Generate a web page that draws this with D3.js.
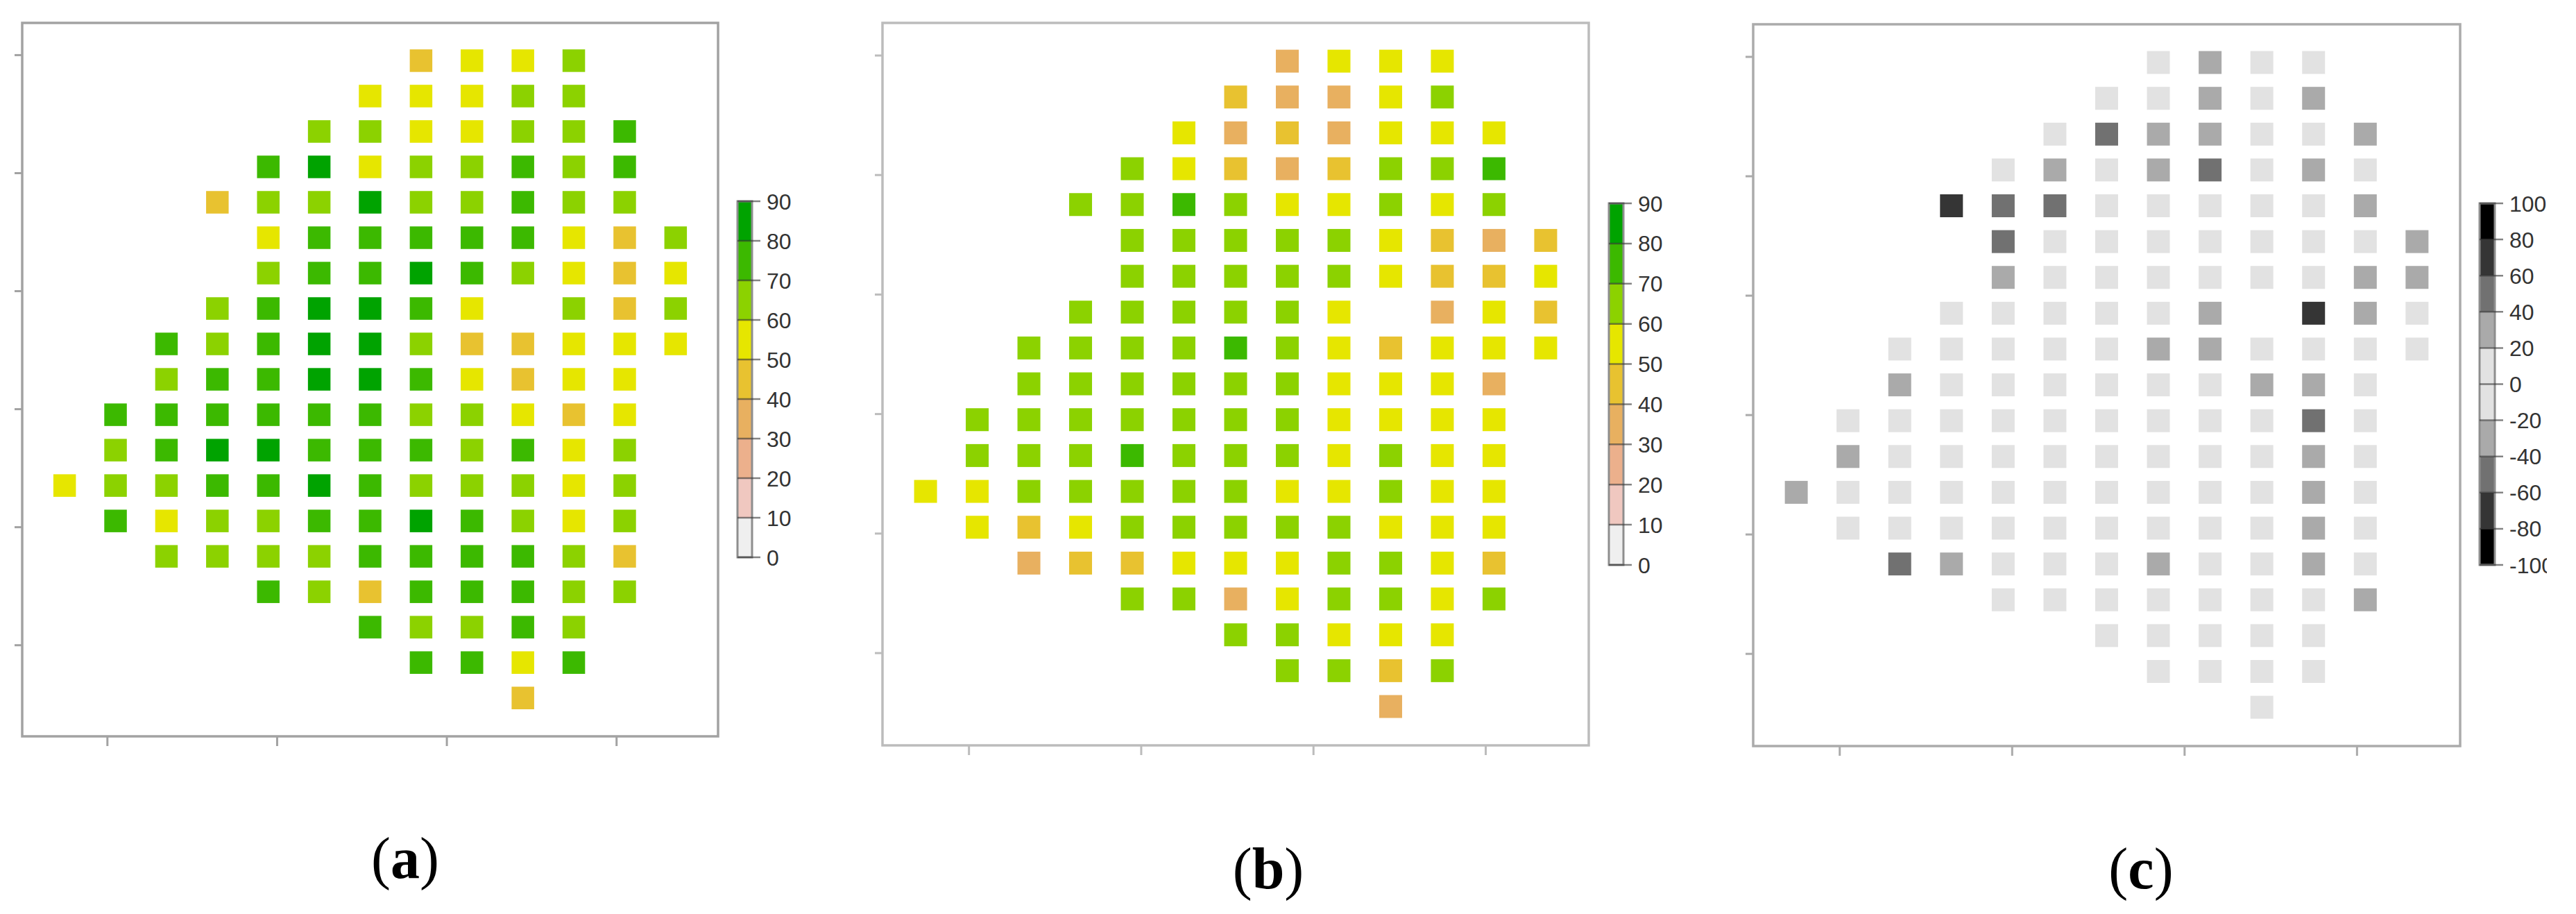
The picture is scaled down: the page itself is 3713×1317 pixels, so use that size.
<!DOCTYPE html>
<html><head><meta charset="utf-8">
<script src="https://cdn.jsdelivr.net/npm/d3@7"></script>
<style>html,body{margin:0;padding:0;background:#fff;overflow:hidden}</style>
</head><body><svg id="chart" width="3713" height="1317"></svg>
<script>
// ---- data ----
const colDeg = [-45,-39,-33,-27,-21,-15,-9,-3,3,9,15,21,27];
const rowDeg = [59,53,47,41,35,29,23,17,11,5,-1,-7,-13,-19,-25,-31,-37,-43,-49];
const rowStart = [7,6,5,4,3,4,4,3,2,2,1,1,0,1,2,4,6,7,9];

const fieldA = [
  [45,55,55,65],
  [55,55,55,65,65],
  [65,65,55,55,65,65,75],
  [75,85,55,65,65,75,65,75],
  [45,65,65,85,65,65,75,65,65],
  [55,75,75,75,75,75,55,45,65],
  [65,75,75,85,75,65,55,45,55],
  [65,75,85,85,75,55,null,65,45,65],
  [75,65,75,85,85,65,45,45,55,55,55],
  [65,75,75,85,85,75,55,45,55,55],
  [75,75,75,75,75,75,65,65,55,45,55],
  [65,75,85,85,75,75,75,65,75,55,65],
  [55,65,65,75,75,85,75,65,65,65,55,65],
  [75,55,65,65,75,75,85,75,65,55,65],
  [65,65,65,65,75,75,75,75,65,45],
  [75,65,45,75,75,75,65,65],
  [75,65,65,75,65],
  [75,75,55,75],
  [45]
];
const fieldB = [
  [35,55,55,55],
  [45,35,35,55,65],
  [55,35,45,35,55,55,55],
  [65,55,45,35,45,65,65,75],
  [65,65,75,65,55,55,65,55,65],
  [65,65,65,65,65,55,45,35,45],
  [65,65,65,65,65,55,45,45,55],
  [65,65,65,65,65,55,null,35,55,45],
  [65,65,65,65,75,65,55,45,55,55,55],
  [65,65,65,65,65,65,55,55,55,35],
  [65,65,65,65,65,65,65,55,55,55,55],
  [65,65,65,75,65,65,65,55,65,55,55],
  [55,55,65,65,65,65,65,55,55,65,55,55],
  [55,45,55,65,65,65,65,65,55,55,55],
  [35,45,45,55,55,55,65,65,55,45],
  [65,65,35,55,65,65,55,65],
  [65,65,55,55,55],
  [65,65,45,65],
  [35]
];
const fieldC = [
  [10,30,10,10],
  [10,10,30,10,30],
  [10,50,30,30,10,10,30],
  [10,30,10,30,50,10,30,10],
  [70,50,50,10,10,10,10,10,30],
  [50,10,10,10,10,10,10,10,30],
  [30,10,10,10,10,10,10,30,30],
  [10,10,10,10,10,30,null,70,30,10],
  [10,10,10,10,10,30,30,10,10,10,10],
  [30,10,10,10,10,10,10,30,30,10],
  [10,10,10,10,10,10,10,10,10,50,10],
  [30,10,10,10,10,10,10,10,10,30,10],
  [30,10,10,10,10,10,10,10,10,10,30,10],
  [10,10,10,10,10,10,10,10,10,30,10],
  [50,30,10,10,10,30,10,10,30,10],
  [10,10,10,10,10,10,10,30],
  [10,10,10,10,10],
  [10,10,10,10],
  [10]
];
const xTicks = [-40,-20,0,20];
const yTicks = [60,40,20,0,-20,-40];
const legendTicksAB = [0,10,20,30,40,50,60,70,80,90];
const legendTicksC = [-100,-80,-60,-40,-20,0,20,40,60,80,100];
const colorsAB = ["#efefef","#f0c8c0","#ecb08c","#e8b060","#e8c230","#e6e600","#8cd200","#3cb900","#00a300"];
const colorsC = ["#000000","#353535","#717171","#aaaaaa","#e2e2e2","#e2e2e2","#aaaaaa","#717171","#353535","#000000"];
const panelLabels = ["a","b","c"];

// ---- layout ----
const svg = d3.select("#chart");
const panels = [
  {field: fieldA, box:{x:32,y:33,w:1003,h:1028}, cell:32.5, frame:"#a2a2a2",
   leg:{x:1063,y:290,w:21,h:513}, ticks:legendTicksAB, colors:colorsAB, lab:{x:584,y:1265}},
  {field: fieldB, box:{x:1272,y:33,w:1018,h:1041}, cell:33, frame:"#bcbcbc",
   leg:{x:2319,y:293,w:21,h:521}, ticks:legendTicksAB, colors:colorsAB, lab:{x:1828,y:1280}},
  {field: fieldC, box:{x:2527,y:35,w:1019,h:1040}, cell:33, frame:"#ababab",
   leg:{x:3574,y:293,w:22,h:521}, ticks:legendTicksC, colors:colorsC, lab:{x:3086,y:1280}}
];

svg.append("clipPath").attr("id","clipRight").append("rect")
  .attr("x",0).attr("y",0).attr("width",3671).attr("height",1317);

panels.forEach((p,i)=>{
  const g = svg.append("g");
  const x = d3.scaleLinear().domain([-50,32]).range([p.box.x, p.box.x+p.box.w]);
  const y = d3.scaleLinear().domain([65.4,-55.5]).range([p.box.y, p.box.y+p.box.h]);
  const ext = d3.extent(p.ticks);
  const color = d3.scaleThreshold()
    .domain(d3.range(1, p.ticks.length-1).map(k=>p.ticks[k]))
    .range(p.colors);

  const cells = [];
  p.field.forEach((row,j)=>row.forEach((v,k)=>{
    if(v!==null) cells.push({c:colDeg[rowStart[j]+k], r:rowDeg[j], v});
  }));
  g.selectAll("rect.cell").data(cells).join("rect").attr("class","cell")
    .attr("x",d=>x(d.c)-p.cell/2).attr("y",d=>y(d.r)-p.cell/2)
    .attr("width",p.cell).attr("height",p.cell)
    .attr("fill",d=>color(d.v));

  // axes
  const xa = g.append("g").attr("transform",`translate(0,${p.box.y+p.box.h})`)
    .call(d3.axisBottom(x).tickValues(xTicks).tickSize(14).tickFormat(""));
  const ya = g.append("g").attr("transform",`translate(${p.box.x},0)`)
    .call(d3.axisLeft(y).tickValues(yTicks).tickSize(11).tickFormat(""));
  [xa,ya].forEach(a=>{
    a.select(".domain").remove();
    a.selectAll(".tick line").attr("stroke",p.frame).attr("stroke-width",3);
  });
  // frame
  g.append("rect").attr("x",p.box.x).attr("y",p.box.y).attr("width",p.box.w).attr("height",p.box.h)
    .attr("fill","none").attr("stroke",p.frame).attr("stroke-width",3.5);

  // legend
  const lg = svg.append("g");
  if(i===2) lg.attr("clip-path","url(#clipRight)");
  const ly = d3.scaleLinear().domain(ext).range([p.leg.y+p.leg.h, p.leg.y]);
  const segs = d3.pairs(p.ticks);
  lg.selectAll("rect.seg").data(segs).join("rect").attr("class","seg")
    .attr("x",p.leg.x).attr("width",p.leg.w)
    .attr("y",d=>ly(d[1])).attr("height",d=>ly(d[0])-ly(d[1]))
    .attr("fill",d=>color((d[0]+d[1])/2));
  lg.append("rect").attr("x",p.leg.x).attr("y",p.leg.y).attr("width",p.leg.w).attr("height",p.leg.h)
    .attr("fill","none").attr("stroke","#8e8e8e").attr("stroke-width",3);
  lg.selectAll("line.lt").data(p.ticks).join("line").attr("class","lt")
    .attr("x1",p.leg.x).attr("x2",p.leg.x+p.leg.w+12)
    .attr("y1",d=>ly(d)).attr("y2",d=>ly(d))
    .attr("stroke","rgba(50,50,50,0.6)").attr("stroke-width",2.5);
  lg.selectAll("text.ll").data(p.ticks).join("text").attr("class","ll")
    .attr("x",p.leg.x+p.leg.w+21).attr("y",d=>ly(d)).attr("dy","0.36em")
    .attr("font-family","Liberation Sans, Arial, sans-serif").attr("font-size",32)
    .attr("fill","#333").text(d=>String(d));

  // caption
  const t = svg.append("text").attr("x",p.lab.x).attr("y",p.lab.y).attr("text-anchor","middle")
    .attr("font-family","Liberation Serif, Times New Roman, serif").attr("font-size",84).attr("fill","#000");
  t.append("tspan").text("(");
  t.append("tspan").attr("font-weight","bold").text(panelLabels[i]);
  t.append("tspan").text(")");
});
</script></body></html>
